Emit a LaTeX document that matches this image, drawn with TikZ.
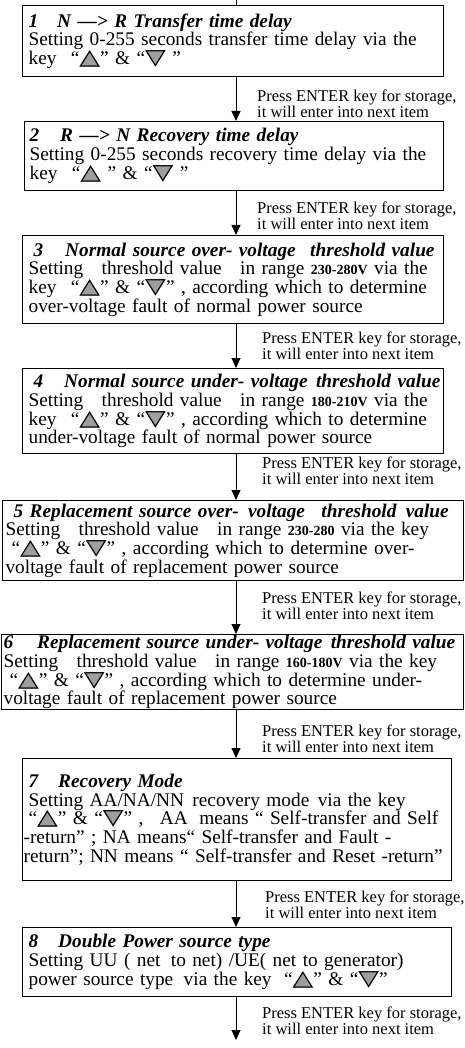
\documentclass[tikz,border=0pt]{standalone}
\usepackage{fontspec}
\usepackage{graphicx}
\setmainfont{Liberation Serif}
\newfontfamily\symfont{DejaVu Sans}
\usetikzlibrary{arrows.meta}
\definecolor{keygray}{RGB}{158,158,158}
\newcommand\keyup{\scalebox{1}[0.8]{\symfont\fontsize{27}{27}\selectfont\rlap{\textcolor{keygray}{▲}}△}}
\newcommand\keydn{\scalebox{1}[0.8]{\symfont\fontsize{27}{27}\selectfont\rlap{\textcolor{keygray}{▼}}▽}}
\newcommand\range[1]{{\fontsize{14}{14}\selectfont\textbf{#1}}}

\begin{document}
\begin{tikzpicture}[x=1pt, y=-1pt,
		itembox/.style={draw, line width=1.2pt, anchor=north west, align=left,
			inner ysep=0pt, font={\fontsize{19.3}{18.8}\selectfont}},
		notetext/.style={anchor=north west, align=left, inner sep=0pt,
			font={\fontsize{16.5}{14.5}\selectfont}},
		flow/.style={line width=1pt, -{Triangle[width=9pt,length=10pt]}}]
	\useasboundingbox (0,0) rectangle (465,1048);
	\coordinate (ax) at (236,0);
	\coordinate (tail) at (236,1040);

	\node[itembox, inner xsep=6pt, text width=409pt, minimum height=71pt] (b1) at (22,5)
		{\mbox{\textbf{\textit{1\hspace{19pt}N —> R Transfer time delay}}}\\
		Setting 0-255 seconds transfer time delay via the\\
		key\hspace{8pt} “\keyup” \& “\keydn\ ”};
	\node[itembox, inner xsep=5pt, text width=409pt, minimum height=69pt] (b2) at (24,121)
		{\mbox{\textbf{\textit{2\hspace{21pt}R —> N Recovery time delay}}}\\
		Setting 0-255 seconds recovery time delay via the\\
		key\hspace{8pt} “\keyup\ ” \& “\keydn\ ”};
	\node[itembox, inner xsep=6pt, text width=409pt, minimum height=88pt] (b3) at (22,235)
		{\mbox{\hspace*{5pt}\textbf{\textit{3\hspace{22pt}Normal source over- voltage\hspace{8pt} threshold value}}}\\
		Setting\hspace{12pt} threshold value\hspace{12pt} in range \range{230-280V} via the\\
		key\hspace{8pt} “\keyup” \& “\keydn” , according which to determine\\
		over-voltage fault of normal power source};
	\node[itembox, inner xsep=6pt, text width=409pt, minimum height=85pt] (b4) at (22,368)
		{\mbox{\hspace*{5pt}\textbf{\textit{4\hspace{21pt}Normal source under- voltage\hspace{2pt} threshold value}}}\\
		Setting\hspace{12pt} threshold value\hspace{12pt} in range \range{180-210V} via the\\
		key\hspace{8pt} “\keyup” \& “\keydn” , according which to determine\\
		under-voltage fault of normal power source};
	\node[itembox, inner xsep=3pt, text width=455pt, minimum height=80pt] (b5) at (2,500)
		{\mbox{\hspace*{8pt}\textbf{\textit{5 Replacement source over-\hspace{3pt} voltage\hspace{10pt} threshold\hspace{3pt} value}}}\\
		\mbox{Setting\hspace{12pt} threshold value\hspace{12pt} in range \range{230-280} via the key}\\
		\hspace*{6pt}“\keyup” \& “\keydn” , according which to determine over-\\
		voltage fault of replacement power source};
	\node[itembox, inner xsep=2pt, text width=458pt, minimum height=75pt] (b6) at (1,634)
		{\mbox{\textbf{\textit{6\hspace{24pt}Replacement source under- voltage\hspace{2pt} threshold value}}}\\
		\mbox{Setting\hspace{12pt} threshold value\hspace{12pt} in range \range{160-180V} via the key}\\
		\hspace*{6pt}“\keyup” \& “\keydn” , according which to determine under-\\
		voltage fault of replacement power source};
	\node[itembox, inner xsep=6pt, text width=417pt, minimum height=122pt] (b7) at (22,758)
		{\mbox{\textbf{\textit{7\hspace{20pt}Recovery Mode}}}\\
		Setting AA/NA/NN\hspace{2pt} recovery mode\hspace{2pt} via the key\\
		\mbox{“\keyup” \& “\keydn” ,\hspace{10pt} AA\hspace{5pt} means “ Self-transfer and Self}\\
		\hspace*{-5pt}-return” ; NA means“ Self-transfer and Fault -\\
		\hspace*{-5pt}return”; NN means “ Self-transfer and Reset -return”};
	\node[itembox, inner xsep=6pt, text width=417pt, minimum height=69pt] (b8) at (22,927)
		{\mbox{\textbf{\textit{8\hspace{20pt}Double Power source type}}}\\
		Setting UU ( net\hspace{4pt} to net) /UE( net to generator)\\
		power source type\hspace{4pt} via the key\hspace{6pt} “\keyup” \& “\keydn”};

	\node[notetext] (l1) at (257,90) {Press ENTER key for storage,\\it will enter into next item};
	\node[notetext] (l2) at (257,202) {Press ENTER key for storage,\\it will enter into next item};
	\node[notetext] (l3) at (262,332) {Press ENTER key for storage,\\it will enter into next item};
	\node[notetext] (l4) at (262,457) {Press ENTER key for storage,\\it will enter into next item};
	\node[notetext] (l5) at (262,592) {Press ENTER key for storage,\\it will enter into next item};
	\node[notetext] (l6) at (262,725) {Press ENTER key for storage,\\it will enter into next item};
	\node[notetext] (l7) at (265,891) {Press ENTER key for storage,\\it will enter into next item};
	\node[notetext] (l8) at (262,1007) {Press ENTER key for storage,\\it will enter into next item};

	\draw[line width=1pt] (ax) -- (b1.north -| ax);
	\draw[flow] (b1.south -| ax) -- (b2.north -| ax);
	\draw[flow] (b2.south -| ax) -- (b3.north -| ax);
	\draw[flow] (b3.south -| ax) -- (b4.north -| ax);
	\draw[flow] (b4.south -| ax) -- (b5.north -| ax);
	\draw[flow] (b5.south -| ax) -- (b6.north -| ax);
	\draw[flow] (b6.south -| ax) -- (b7.north -| ax);
	\draw[flow] (b7.south -| ax) -- (b8.north -| ax);
	\draw[flow] (b8.south -| ax) -- (tail);
\end{tikzpicture}
\end{document}
